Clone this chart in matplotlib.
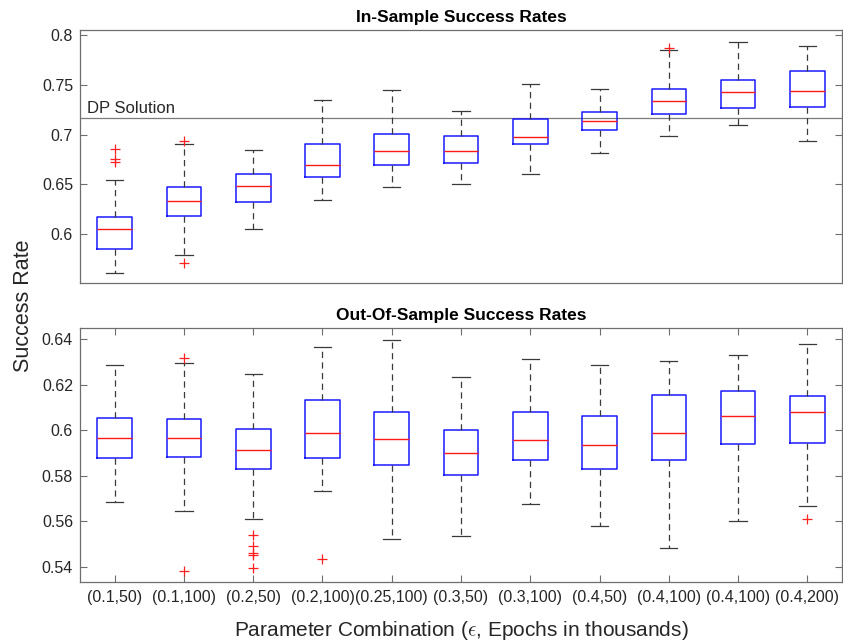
import matplotlib
matplotlib.use("Agg")
import matplotlib.pyplot as plt

plt.rcParams['font.family'] = ['Liberation Sans', 'DejaVu Sans']
plt.rcParams['mathtext.fontset'] = 'cm'

# Parameter combinations (epsilon, epochs in thousands)
labels = ['(0.1,50)', '(0.1,100)', '(0.2,50)', '(0.2,100)', '(0.25,100)',
          '(0.3,50)', '(0.3,100)', '(0.4,50)', '(0.4,100)', '(0.4,100)', '(0.4,200)']

# In-sample success rates: box statistics
in_whislo = [0.5615, 0.5789, 0.6050, 0.6342, 0.6472, 0.6506, 0.6606, 0.6811, 0.6988, 0.7095, 0.6935]
in_q1     = [0.5856, 0.6178, 0.6325, 0.6570, 0.6697, 0.6717, 0.6905, 0.7042, 0.7203, 0.7266, 0.7276]
in_med    = [0.6057, 0.6329, 0.6486, 0.6697, 0.6834, 0.6834, 0.6978, 0.7136, 0.7334, 0.7424, 0.7437]
in_q3     = [0.6174, 0.6470, 0.6600, 0.6901, 0.7002, 0.6982, 0.7159, 0.7223, 0.7460, 0.7545, 0.7635]
in_whishi = [0.6543, 0.6905, 0.6847, 0.7347, 0.7447, 0.7236, 0.7511, 0.7460, 0.7846, 0.7933, 0.7889]
in_fliers = [[0.6855, 0.6750, 0.6720], [0.6938, 0.5712], [], [], [], [], [], [], [0.7866], [], []]

# Out-of-sample success rates: box statistics
out_whislo = [0.5684, 0.5646, 0.5611, 0.5734, 0.5525, 0.5535, 0.5677, 0.5580, 0.5484, 0.5602, 0.5668]
out_q1     = [0.5880, 0.5885, 0.5831, 0.5879, 0.5848, 0.5803, 0.5870, 0.5831, 0.5870, 0.5940, 0.5946]
out_med    = [0.5968, 0.5967, 0.5914, 0.5989, 0.5964, 0.5899, 0.5959, 0.5937, 0.5989, 0.6063, 0.6079]
out_q3     = [0.6056, 0.6052, 0.6006, 0.6132, 0.6079, 0.6002, 0.6081, 0.6065, 0.6156, 0.6175, 0.6153]
out_whishi = [0.6287, 0.6296, 0.6246, 0.6368, 0.6396, 0.6236, 0.6314, 0.6286, 0.6303, 0.6333, 0.6381]
out_fliers = [[], [0.6318, 0.5381], [0.5539, 0.5494, 0.5463, 0.5451, 0.5396], [0.5437],
              [], [], [], [], [], [], [0.5612]]

dp_solution = 0.7163

in_yticks = [0.6, 0.65, 0.7, 0.75, 0.8]
out_yticks = [0.54, 0.56, 0.58, 0.6, 0.62, 0.64]


def make_stats(whislo, q1, med, q3, whishi, fliers):
    return [dict(whislo=a, q1=b, med=c, q3=d, whishi=e, fliers=f)
            for a, b, c, d, e, f in zip(whislo, q1, med, q3, whishi, fliers)]


W, H = 843, 643
fig = plt.figure(figsize=(W / 100, H / 100), dpi=100)

left = 80 / W
width = 762 / W
ax_in = fig.add_axes([left, 1 - 283 / H, width, 253 / H])
ax_out = fig.add_axes([left, 1 - 582 / H, width, 254 / H])

spine_col = '#6e6e6e'
text_col = '#262626'
positions = list(range(1, len(labels) + 1))

style = dict(
    widths=0.5,
    capwidths=0.25,
    patch_artist=False,
    boxprops=dict(color='#1a1aff', linewidth=1.1),
    medianprops=dict(color='#ff1a1a', linewidth=1.0),
    whiskerprops=dict(color='#3a3a3a', linewidth=0.9, linestyle=(0, (5, 3.5))),
    capprops=dict(color='#3a3a3a', linewidth=0.9),
    flierprops=dict(marker='+', markeredgecolor='#ff2020', markersize=7,
                    markeredgewidth=0.9, linestyle='none'),
)

ax_in.bxp(make_stats(in_whislo, in_q1, in_med, in_q3, in_whishi, in_fliers),
          positions=positions, **style)
ax_out.bxp(make_stats(out_whislo, out_q1, out_med, out_q3, out_whishi, out_fliers),
           positions=positions, **style)

# DP reference level
ax_in.axhline(dp_solution, color='#7a7a7a', linewidth=0.9, zorder=1)
ax_in.annotate('DP Solution', xy=(0.5, dp_solution), xytext=(5, 4),
               textcoords='offset points', va='baseline', ha='left',
               fontsize=12, color=text_col)

for ax in (ax_in, ax_out):
    ax.set_xlim(0.5, 11.5)
    for s in ax.spines.values():
        s.set_color(spine_col)
        s.set_linewidth(0.9)
    ax.tick_params(axis='both', direction='in', length=5, width=0.8,
                   color=spine_col, labelcolor=text_col, labelsize=11.5)
    ax.tick_params(axis='y', left=True, right=True, pad=5)

ax_in.set_ylim(0.551, 0.805)
ax_in.set_yticks(in_yticks)
ax_in.set_yticklabels([f'{v:g}' for v in in_yticks])
ax_in.set_xticks(positions)
ax_in.tick_params(axis='x', bottom=False, top=False, labelbottom=False)
ax_in.set_title('In-Sample Success Rates', fontsize=12.5, fontweight='bold',
                color='black', pad=6)

ax_out.set_ylim(0.5334, 0.645)
ax_out.set_yticks(out_yticks)
ax_out.set_yticklabels([f'{v:g}' for v in out_yticks])
ax_out.set_xticks(positions)
ax_out.set_xticklabels(labels)
ax_out.tick_params(axis='x', bottom=True, top=True, pad=6)
ax_out.set_title('Out-Of-Sample Success Rates', fontsize=12.5, fontweight='bold',
                 color='black', pad=6)

fig.text(24 / W, 1 - 306 / H, 'Success Rate', rotation=90, ha='center',
         va='center', fontsize=15.5, color=text_col)
fig.text(461 / W, 1 - 631 / H, r'Parameter Combination ($\epsilon$, Epochs in thousands)',
         ha='center', va='center', fontsize=15, color=text_col)

fig.savefig('out.png', dpi=100)
